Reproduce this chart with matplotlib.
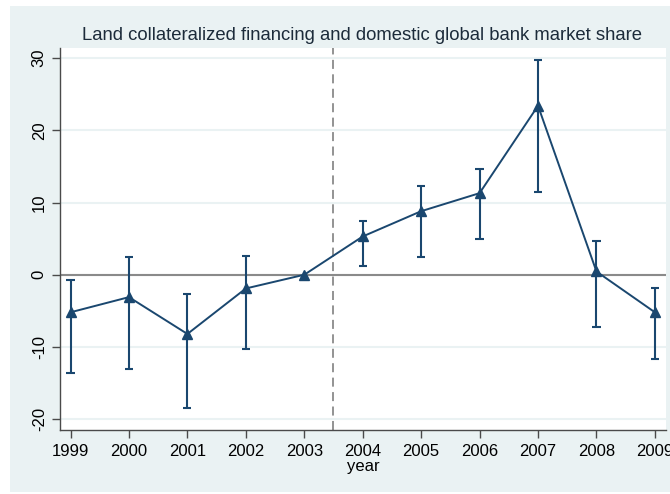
import matplotlib
matplotlib.use("Agg")
import matplotlib.pyplot as plt
from matplotlib.patches import Rectangle
import numpy as np

# coefficient estimates by year with 95% confidence bounds
years = [1999, 2000, 2001, 2002, 2003, 2004, 2005, 2006, 2007, 2008, 2009]
coef = [-5.2, -3.1, -8.2, -1.9, 0.0, 5.3, 8.8, 11.3, 23.4, 0.45, -5.2]
ci_low = [-13.6, -13.0, -18.4, -10.3, 0.0, 1.15, 2.4, 4.9, 11.4, -7.3, -11.7]
ci_high = [-0.7, 2.4, -2.6, 2.6, 0.0, 7.5, 12.3, 14.7, 29.7, 4.7, -1.85]
yticks = [-20, -10, 0, 10, 20, 30]

navy = "#1a476f"
bg = "#eaf2f3"

plt.rcParams["font.family"] = ["Liberation Sans", "DejaVu Sans"]
plt.rcParams["axes.unicode_minus"] = False

W, H = 670, 494
fig = plt.figure(figsize=(W / 100, H / 100), dpi=100, facecolor="white")
fig.add_artist(Rectangle((10 / W, 2 / H), 1 - 10 / W, 1 - 8 / H,
                         transform=fig.transFigure, facecolor=bg,
                         edgecolor="none", zorder=-5))

ax = fig.add_axes([60 / W, 1 - 430 / H, (666 - 60) / W, (430 - 48) / H])
ax.set_facecolor("white")

x = np.array(years)
lo = np.array(ci_low)
hi = np.array(ci_high)
has_ci = hi > lo
cap = 0.07
ax.vlines(x[has_ci], lo[has_ci], hi[has_ci], color=navy, lw=1.5, zorder=3)
ax.hlines(lo[has_ci], x[has_ci] - cap, x[has_ci] + cap, color=navy, lw=1.5, zorder=3)
ax.hlines(hi[has_ci], x[has_ci] - cap, x[has_ci] + cap, color=navy, lw=1.5, zorder=3)
ax.plot(years, coef, color=navy, lw=1.4, marker="^", ms=6.5, zorder=4)

ax.axhline(0, color="#8a8a8a", lw=1.5, zorder=2)
ax.axvline(2003.5, color="#8a8a8a", lw=1.3, ls=(0, (5, 3)), zorder=2)

ax.set_xlim(1998.82, 2009.19)
ax.set_ylim(-21.5, 31.4)
ax.set_yticks(yticks)
ax.set_xticks(years)
ax.grid(axis="y", color=bg, lw=1.5, zorder=1)
ax.set_axisbelow(True)

for side in ["top", "right"]:
    ax.spines[side].set_visible(False)
for side in ["left", "bottom"]:
    ax.spines[side].set_color("#4a4a4a")
    ax.spines[side].set_linewidth(1.0)

ax.tick_params(axis="both", direction="out", length=6, width=1.0,
               color="#4a4a4a", labelsize=12, labelcolor="black")
ax.tick_params(axis="x", pad=4)
for lbl in ax.get_yticklabels():
    lbl.set_rotation(90)
    lbl.set_va("center")

ax.set_xlabel("year", fontsize=12, labelpad=0)
fig.text(362 / W, 1 - 36 / H,
         "Land collateralized financing and domestic global bank market share",
         ha="center", va="center", fontsize=13.3, color="#1c2b3a")

fig.savefig("out.png", dpi=100, facecolor=fig.get_facecolor())
